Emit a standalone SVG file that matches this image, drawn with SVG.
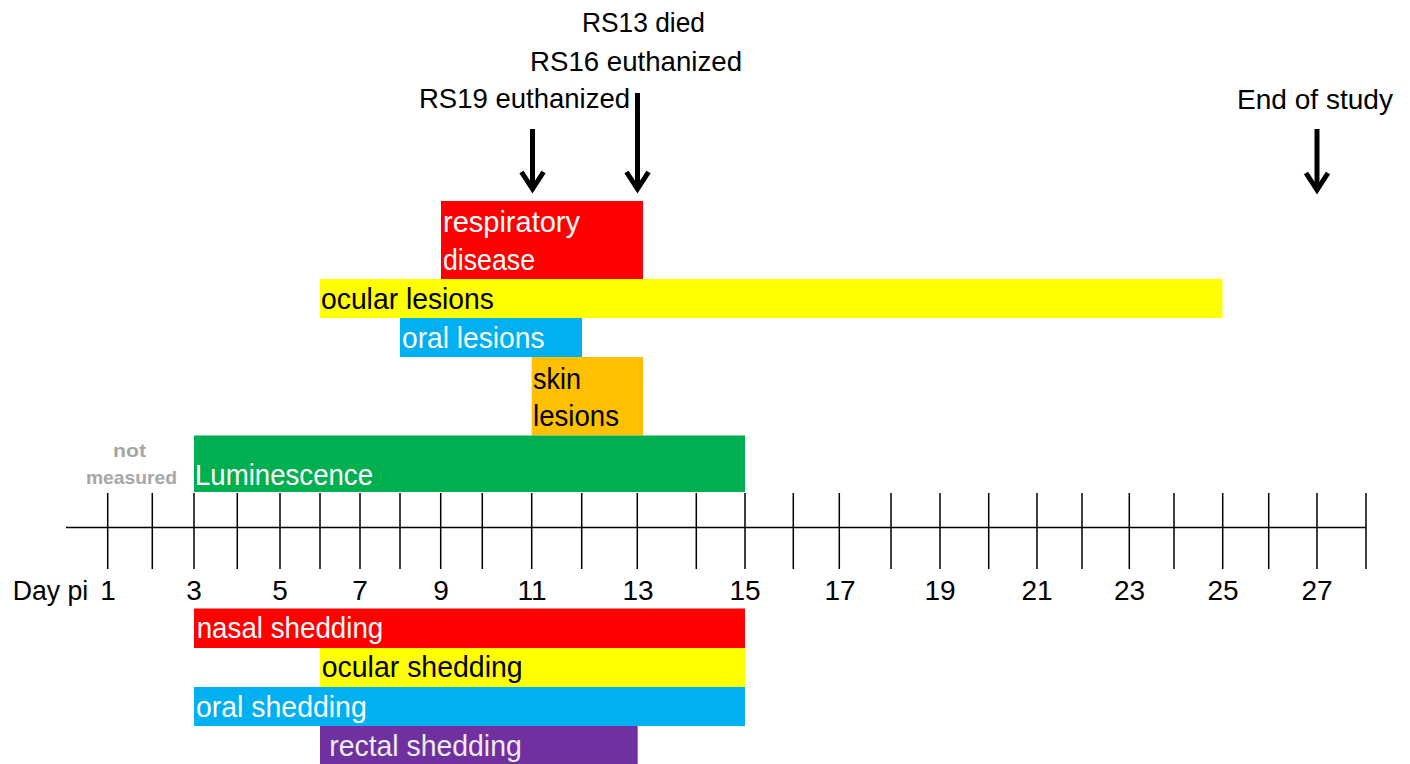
<svg xmlns="http://www.w3.org/2000/svg" width="1410" height="764" viewBox="0 0 1410 764">
<style>
  text { font-family: "Liberation Sans", Arial, sans-serif; }
  .lbl { font-size: 28px; fill: #000; }
  .num { font-size: 28px; fill: #000; text-anchor: middle; }
  .bar { font-size: 29px; }
  .w { fill: #FFFFFF; }
  .k { fill: #000000; }
  .nm { font-size: 19px; font-weight: bold; fill: #A6A6A6; text-anchor: middle; }
  .axis { stroke: #000; stroke-width: 1.5; fill: none; }
  .shaft { stroke: #000; stroke-width: 5; fill: none; }
  .head { stroke: #000; stroke-width: 5; fill: none; stroke-linejoin: miter; stroke-miterlimit: 10; }
</style>
<rect x="0" y="0" width="1410" height="764" fill="#FFFFFF"/>

<g id="connectors">
  <g id="axis" class="axis">
    <line x1="66" y1="527.5" x2="1366" y2="527.5"/>
    <path d="M107.7 493V569 M152.3 493V569 M194 493V569 M237.3 493V569 M280 493V569 M320 493V569 M360 493V569 M400 493V569 M440.7 493V569 M482.3 493V569 M531.7 493V569 M581.7 493V569 M637.3 493V569 M696.3 493V569 M745 493V569 M793.3 493V569 M839.3 493V569 M891 493V569 M940 493V569 M988.7 493V569 M1037 493V569 M1082 493V569 M1129.3 493V569 M1174 493V569 M1222.7 493V569 M1268.7 493V569 M1317 493V569 M1366 493V569"/>
  </g>
  <g id="arrow-rs19">
    <line class="shaft" x1="532.5" y1="129" x2="532.5" y2="189"/>
    <path class="head" d="M521.5 172 L532.5 189 L543.5 172"/>
  </g>
  <g id="arrow-rs13">
    <line class="shaft" x1="637.5" y1="93" x2="637.5" y2="189"/>
    <path class="head" d="M626.5 172 L637.5 189 L648.5 172"/>
  </g>
  <g id="arrow-end">
    <line class="shaft" x1="1317" y1="129" x2="1317" y2="190"/>
    <path class="head" d="M1306 173 L1317 190 L1328 173"/>
  </g>
</g>

<g id="event-rs13">
  <text class="lbl" x="582" y="32" textLength="123" lengthAdjust="spacingAndGlyphs">RS13 died</text>
  <text class="lbl" x="530" y="71" textLength="212" lengthAdjust="spacingAndGlyphs">RS16 euthanized</text>
</g>
<g id="event-rs19">
  <text class="lbl" x="419" y="108" textLength="211" lengthAdjust="spacingAndGlyphs">RS19 euthanized</text>
</g>
<g id="event-end">
  <text class="lbl" x="1237" y="109" textLength="156" lengthAdjust="spacingAndGlyphs">End of study</text>
</g>

<g id="respiratory-disease">
  <rect x="441" y="201" width="202" height="78" fill="#FF0000"/>
  <text class="bar w" x="443" y="232" textLength="137" lengthAdjust="spacingAndGlyphs">respiratory</text>
  <text class="bar w" x="443" y="270" textLength="92" lengthAdjust="spacingAndGlyphs">disease</text>
</g>
<g id="ocular-lesions">
  <rect x="320" y="279" width="902.5" height="39" fill="#FFFF00"/>
  <text class="bar k" x="321" y="309" textLength="173" lengthAdjust="spacingAndGlyphs">ocular lesions</text>
</g>
<g id="oral-lesions">
  <rect x="400" y="318" width="182" height="39" fill="#00B0F0"/>
  <text class="bar w" x="402" y="348" textLength="142.5" lengthAdjust="spacingAndGlyphs">oral lesions</text>
</g>
<g id="skin-lesions">
  <rect x="531.7" y="357" width="111.3" height="78.5" fill="#FFC000"/>
  <text class="bar k" x="533" y="389" textLength="48" lengthAdjust="spacingAndGlyphs">skin</text>
  <text class="bar k" x="533" y="426" textLength="86" lengthAdjust="spacingAndGlyphs">lesions</text>
</g>
<g id="luminescence">
  <rect x="194" y="435.5" width="551" height="56.5" fill="#00B050"/>
  <text class="bar w" x="195" y="485" textLength="178" lengthAdjust="spacingAndGlyphs">Luminescence</text>
</g>
<g id="not-measured">
  <text class="nm" x="129.5" y="457" textLength="33" lengthAdjust="spacingAndGlyphs">not</text>
  <text class="nm" x="131.5" y="484" textLength="91" lengthAdjust="spacingAndGlyphs">measured</text>
</g>

<g id="day-labels">
  <text class="lbl" x="12.7" y="600" textLength="75.6" lengthAdjust="spacingAndGlyphs">Day pi</text>
  <text class="num" x="108" y="600">1</text>
  <text class="num" x="194" y="600">3</text>
  <text class="num" x="280" y="600">5</text>
  <text class="num" x="360" y="600">7</text>
  <text class="num" x="441" y="600">9</text>
  <text class="num" x="532" y="600">11</text>
  <text class="num" x="638" y="600">13</text>
  <text class="num" x="745" y="600">15</text>
  <text class="num" x="840" y="600">17</text>
  <text class="num" x="940" y="600">19</text>
  <text class="num" x="1037" y="600">21</text>
  <text class="num" x="1129.5" y="600">23</text>
  <text class="num" x="1223" y="600">25</text>
  <text class="num" x="1317" y="600">27</text>
</g>

<g id="nasal-shedding">
  <rect x="194" y="608.5" width="551" height="39.5" fill="#FF0000"/>
  <text class="bar w" x="196.7" y="637.5" textLength="186.6" lengthAdjust="spacingAndGlyphs">nasal shedding</text>
</g>
<g id="ocular-shedding">
  <rect x="320" y="648" width="425" height="39" fill="#FFFF00"/>
  <text class="bar k" x="321.7" y="677" textLength="201" lengthAdjust="spacingAndGlyphs">ocular shedding</text>
</g>
<g id="oral-shedding">
  <rect x="194" y="687" width="551" height="39" fill="#00B0F0"/>
  <text class="bar w" x="196" y="716.5" textLength="170.7" lengthAdjust="spacingAndGlyphs">oral shedding</text>
</g>
<g id="rectal-shedding">
  <rect x="320" y="726" width="317.7" height="38" fill="#7030A0"/>
  <text class="bar" fill="#EDEDED" x="329.3" y="756" textLength="192.4" lengthAdjust="spacingAndGlyphs">rectal shedding</text>
</g>
</svg>
